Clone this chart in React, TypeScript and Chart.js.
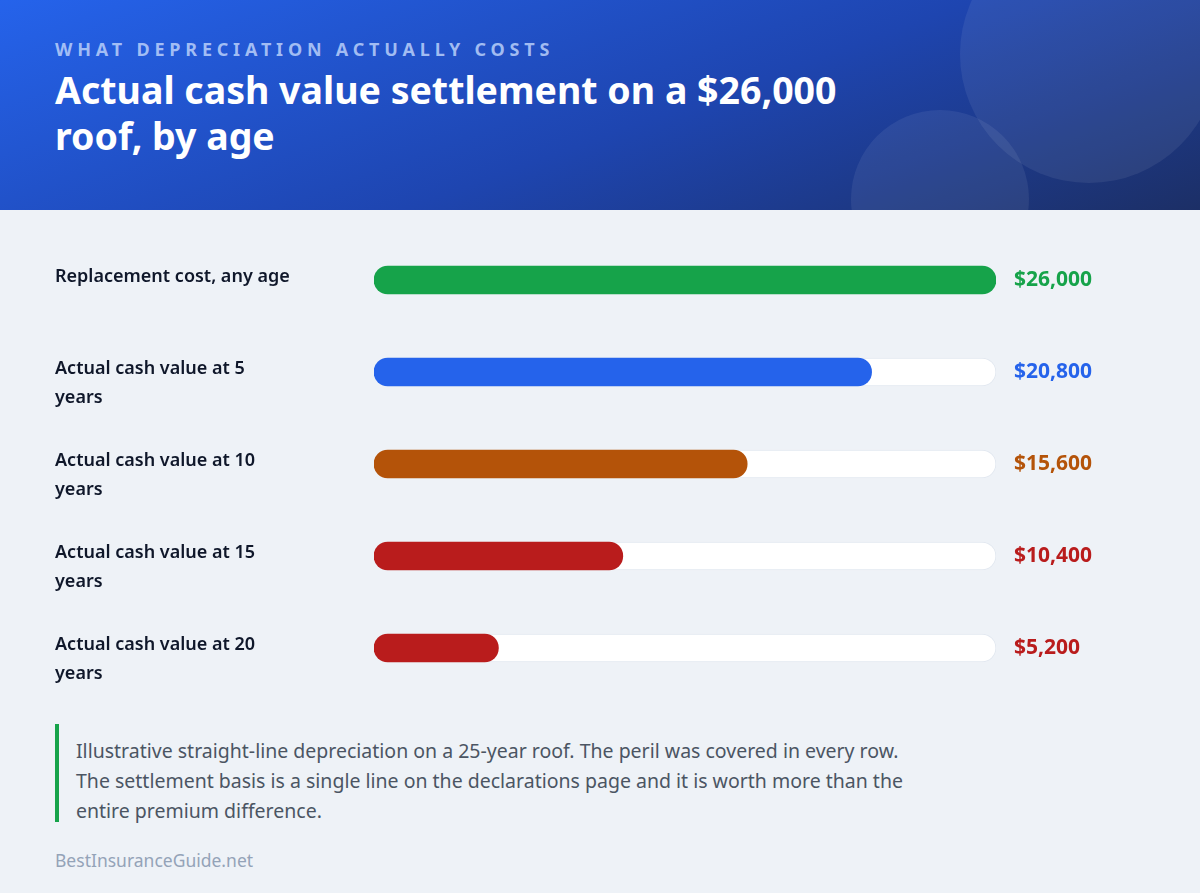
import React, { useEffect, useRef } from "react";
import { Chart, registerables } from "chart.js";

Chart.register(...registerables);

const eyebrow = "WHAT DEPRECIATION ACTUALLY COSTS";
const titleLines = ["Actual cash value settlement on a $26,000", "roof, by age"];

const categories: string[][] = [
  ["Replacement cost, any age"],
  ["Actual cash value at 5", "years"],
  ["Actual cash value at 10", "years"],
  ["Actual cash value at 15", "years"],
  ["Actual cash value at 20", "years"],
];
const settlementValues = [26000, 20800, 15600, 10400, 5200];
const trackValues = [26000, 26000, 26000, 26000, 26000];
const valueLabels = ["$26,000", "$20,800", "$15,600", "$10,400", "$5,200"];
const barColors = ["#16a34a", "#2563eb", "#b45309", "#b91c1c", "#b91c1c"];
const axisMax = 26000;

const noteText =
  "Illustrative straight-line depreciation on a 25-year roof. The peril was covered in every row. The settlement basis is a single line on the declarations page and it is worth more than the entire premium difference.";
const footerText = "BestInsuranceGuide.net";

const FONT = '"Noto Sans", "Open Sans", sans-serif';

export default function App() {
  const canvasRef = useRef<HTMLCanvasElement | null>(null);

  useEffect(() => {
    document.body.style.margin = "0";
    const canvas = canvasRef.current;
    if (!canvas) return;

    const rowText = {
      id: "rowText",
      afterDatasetsDraw(chart: any) {
        const ctx = chart.ctx;
        const meta = chart.getDatasetMeta(0);
        const area = chart.chartArea;
        ctx.save();
        ctx.textBaseline = "middle";
        meta.data.forEach((bar: any, i: number) => {
          const y = bar.y;
          ctx.fillStyle = "#0f172a";
          ctx.font = `600 18px ${FONT}`;
          ctx.textAlign = "left";
          categories[i].forEach((line, j) => {
            ctx.fillText(line, 55, y - 3 + j * 29);
          });
          ctx.fillStyle = barColors[i];
          ctx.font = `700 21px ${FONT}`;
          ctx.fillText(valueLabels[i], area.right + 18, y);
        });
        ctx.restore();
      },
    };

    const chart = new Chart(canvas, {
      type: "bar",
      data: {
        labels: categories,
        datasets: [
          {
            label: "Settlement",
            data: settlementValues,
            backgroundColor: barColors,
            borderRadius: 14,
            borderSkipped: false,
            barThickness: 28,
            grouped: false,
            order: 0,
          },
          {
            label: "Replacement cost",
            data: trackValues,
            backgroundColor: "#ffffff",
            borderColor: "#e2e8f0",
            borderWidth: 1,
            borderRadius: 14,
            borderSkipped: false,
            barThickness: 28,
            grouped: false,
            order: 1,
          },
        ],
      },
      options: {
        indexAxis: "y",
        animation: false,
        responsive: false,
        maintainAspectRatio: false,
        layout: { padding: { left: 374, right: 204, top: 24, bottom: 16 } },
        scales: {
          x: { min: 0, max: axisMax, display: false },
          y: { display: false },
        },
        plugins: {
          legend: { display: false },
          tooltip: { enabled: false },
        },
      },
      plugins: [rowText],
    } as any);

    return () => chart.destroy();
  }, []);

  return (
    <div
      style={{
        position: "relative",
        width: 1200,
        height: 893,
        background: "#eef2f7",
        overflow: "hidden",
        fontFamily: FONT,
      }}
    >
      <div
        style={{
          position: "absolute",
          left: 0,
          top: 0,
          width: 1200,
          height: 210,
          background: "linear-gradient(160deg, #2563eb 0%, #1e45b0 55%, #1c2f66 100%)",
          overflow: "hidden",
        }}
      >
        <div
          style={{
            position: "absolute",
            left: 960,
            top: -75,
            width: 258,
            height: 258,
            borderRadius: "50%",
            background: "rgba(255,255,255,0.07)",
          }}
        />
        <div
          style={{
            position: "absolute",
            left: 851,
            top: 110,
            width: 178,
            height: 178,
            borderRadius: "50%",
            background: "rgba(255,255,255,0.07)",
          }}
        />
        <div
          style={{
            position: "absolute",
            left: 55,
            top: 38,
            fontSize: 18,
            fontWeight: 700,
            letterSpacing: 4.8,
            color: "rgba(186,208,250,0.85)",
            lineHeight: "22px",
            whiteSpace: "nowrap",
          }}
        >
          {eyebrow}
        </div>
        <div
          style={{
            position: "absolute",
            left: 55,
            top: 67,
            fontSize: 37.5,
            fontWeight: 700,
            color: "#ffffff",
            lineHeight: "46px",
            whiteSpace: "nowrap",
          }}
        >
          {titleLines.map((l, i) => (
            <div key={i}>{l}</div>
          ))}
        </div>
      </div>

      <canvas
        ref={canvasRef}
        width={1200}
        height={500}
        style={{ position: "absolute", left: 0, top: 210, width: 1200, height: 500 }}
      />

      <div
        style={{
          position: "absolute",
          left: 55,
          top: 724,
          width: 863,
          height: 98,
          borderLeft: "4px solid #16a34a",
          boxSizing: "border-box",
          paddingLeft: 17,
          paddingTop: 12,
          fontSize: 19.5,
          lineHeight: "30px",
          color: "#4b5563",
        }}
      >
        {noteText}
      </div>

      <div
        style={{
          position: "absolute",
          left: 55,
          top: 848,
          fontSize: 17.5,
          lineHeight: "24px",
          color: "#94a3b8",
          whiteSpace: "nowrap",
        }}
      >
        {footerText}
      </div>
    </div>
  );
}
